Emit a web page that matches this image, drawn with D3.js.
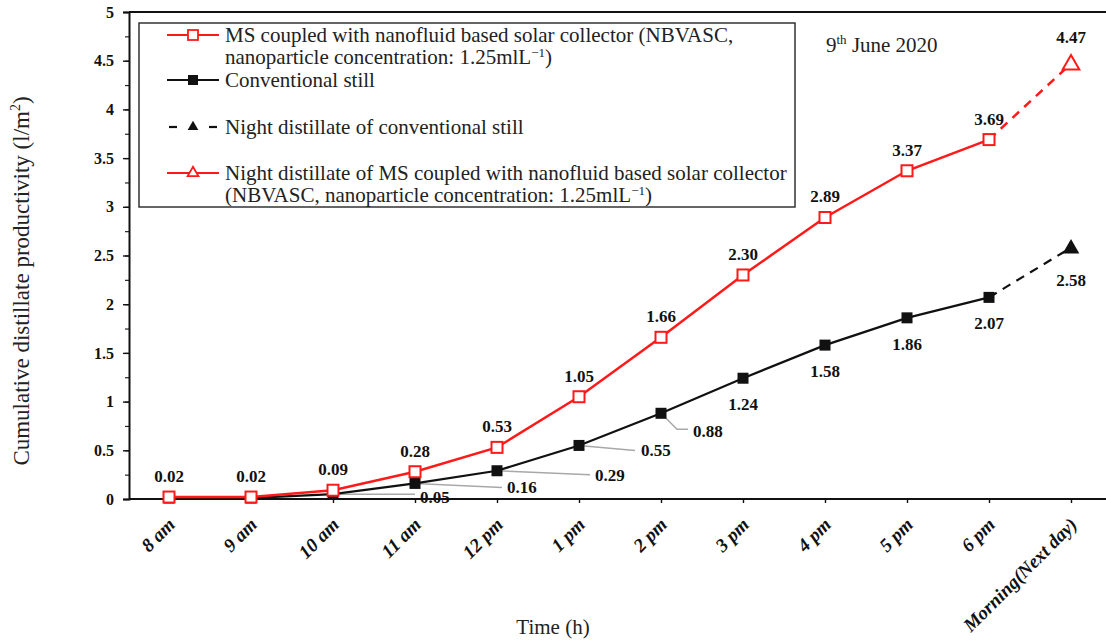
<!DOCTYPE html>
<html>
<head>
<meta charset="utf-8">
<script src="https://cdn.jsdelivr.net/npm/d3@7"></script>
<style>
  html, body { margin: 0; padding: 0; background: #fff; }
  svg { display: block; }
  text { font-family: "Liberation Serif", "Times New Roman", serif; }
</style>
</head>
<body>
<svg id="chart" width="1106" height="640"></svg>
<script>
// Time points over the day plus the next-morning reading
const timeLabels = ["8 am", "9 am", "10 am", "11 am", "12 pm", "1 pm", "2 pm", "3 pm", "4 pm", "5 pm", "6 pm", "Morning(Next day)"];
const dayTimes = timeLabels.slice(0, 11);

// Cumulative distillate (l/m2) during the day
const msValues = [0.02, 0.02, 0.09, 0.28, 0.53, 1.05, 1.66, 2.30, 2.89, 3.37, 3.69];
const convValues = [0.01, 0.01, 0.05, 0.16, 0.29, 0.55, 0.88, 1.24, 1.58, 1.86, 2.07];

// Overnight segment: 6 pm reading to next-morning reading
const nightTimes = ["6 pm", "Morning(Next day)"];
const msNightValues = [3.69, 4.47];
const convNightValues = [2.07, 2.58];

const yTicks = [0, 0.5, 1, 1.5, 2, 2.5, 3, 3.5, 4, 4.5, 5];
const yMinorTicks = d3.range(0, 5.001, 0.25);

const svg = d3.select("#chart");
const margin = { left: 129, top: 12, right: 0, bottom: 141 };
const W = 1106, H = 640;
const iw = W - margin.left - margin.right;
const ih = H - margin.top - margin.bottom;

const g = svg.append("g").attr("transform", `translate(${margin.left},${margin.top})`);

const x = d3.scalePoint().domain(timeLabels).range([40, 942]);
const y = d3.scaleLinear().domain([0, 5]).range([ih, 0]);

// top frame line
g.append("line").attr("x1", 0).attr("x2", iw).attr("y1", 0).attr("y2", 0)
  .attr("stroke", "#111").attr("stroke-width", 2);

// minor y ticks
g.append("g").call(d3.axisLeft(y).tickValues(yMinorTicks).tickSize(4).tickFormat(""))
  .call(a => a.select(".domain").remove())
  .selectAll("line").attr("stroke", "#222").attr("stroke-width", 1.2);

// y axis
const yAxis = g.append("g")
  .call(d3.axisLeft(y).tickValues(yTicks).tickSize(6).tickPadding(9).tickFormat(d3.format("~g")));
yAxis.select(".domain").attr("stroke", "#111").attr("stroke-width", 2);
yAxis.selectAll(".tick line").attr("stroke", "#111").attr("stroke-width", 1.4);
yAxis.selectAll("text").attr("font-family", "Liberation Serif").attr("font-weight", "bold")
  .attr("font-size", 16).attr("fill", "#111");

// x axis
const xAxis = g.append("g").attr("transform", `translate(0,${ih})`)
  .call(d3.axisBottom(x).tickSize(4).tickSizeOuter(0));
xAxis.select(".domain").attr("d", `M0,0H${iw}`).attr("stroke", "#111").attr("stroke-width", 2);
xAxis.selectAll(".tick line").attr("stroke", "#111").attr("stroke-width", 1.4);
xAxis.selectAll("text")
  .attr("font-family", "Liberation Serif").attr("font-weight", "bold").attr("font-style", "italic")
  .attr("font-size", 19).attr("fill", "#111")
  .attr("x", 0).attr("y", 0).attr("dy", "0.35em")
  .attr("text-anchor", "end")
  .attr("transform", "translate(2,22) rotate(-45)");

// axis titles
svg.append("text")
  .attr("transform", `translate(29,281) rotate(-90)`)
  .attr("text-anchor", "middle").attr("font-size", 23).attr("fill", "#222")
  .text("Cumulative distillate productivity (l/m")
  .call(t => t.append("tspan").attr("font-size", 14).attr("dy", -9).text("2"))
  .call(t => t.append("tspan").attr("dy", 9).text(")"));

svg.append("text").attr("x", 553).attr("y", 634).attr("text-anchor", "middle")
  .attr("font-size", 21).attr("fill", "#222").text("Time (h)");

// date note
svg.append("text").attr("x", 826).attr("y", 52).attr("font-size", 21).attr("fill", "#222")
  .text("9")
  .call(t => t.append("tspan").attr("font-size", 13).attr("dy", -8).text("th"))
  .call(t => t.append("tspan").attr("dy", 8).text(" June 2020"));

const lineGen = d3.line().x(d => x(d[0])).y(d => y(d[1]));
const RED = "#ff1a1a";

// gray leader lines for the crowded conventional-still labels
const leaders = [
  { i: 2, pts: [[0, 0], [82, 0]], lx: 87, ly: 3 },
  { i: 3, pts: [[0, 0], [87, 4]], lx: 92, ly: 4 },
  { i: 4, pts: [[0, 0], [93, 4]], lx: 98, ly: 4 },
  { i: 5, pts: [[0, 0], [56, 5]], lx: 62, ly: 5 },
  { i: 6, pts: [[0, 0], [16, 16], [27, 16]], lx: 32, ly: 18 }
];
leaders.forEach(l => {
  const px = x(dayTimes[l.i]), py = y(convValues[l.i]);
  g.append("path")
    .attr("d", d3.line()(l.pts.map(p => [px + p[0], py + p[1]])))
    .attr("fill", "none").attr("stroke", "#a8a8a8").attr("stroke-width", 1.5);
});

// night dashed segments
g.append("path").datum(d3.zip(nightTimes, convNightValues)).attr("d", lineGen)
  .attr("fill", "none").attr("stroke", "#111").attr("stroke-width", 2.2).attr("stroke-dasharray", "9,7");
g.append("path").datum(d3.zip(nightTimes, msNightValues)).attr("d", lineGen)
  .attr("fill", "none").attr("stroke", RED).attr("stroke-width", 2.5).attr("stroke-dasharray", "9,7");

// conventional still line + markers
g.append("path").datum(d3.zip(dayTimes, convValues)).attr("d", lineGen)
  .attr("fill", "none").attr("stroke", "#111").attr("stroke-width", 2.2);
g.selectAll(".conv-pt").data(d3.zip(dayTimes, convValues)).join("rect")
  .attr("x", d => x(d[0]) - 5.5).attr("y", d => y(d[1]) - 5.5)
  .attr("width", 11).attr("height", 11).attr("fill", "#111");

// MS + NBVASC line + markers
g.append("path").datum(d3.zip(dayTimes, msValues)).attr("d", lineGen)
  .attr("fill", "none").attr("stroke", RED).attr("stroke-width", 2.5);
g.selectAll(".ms-pt").data(d3.zip(dayTimes, msValues)).join("rect")
  .attr("x", d => x(d[0]) - 5.5).attr("y", d => y(d[1]) - 5.5)
  .attr("width", 11).attr("height", 11).attr("fill", "#fff").attr("stroke", RED).attr("stroke-width", 2);

// next-morning triangles
const tri = d3.symbol().type(d3.symbolTriangle).size(120);
g.append("path").attr("d", tri)
  .attr("transform", `translate(${x(nightTimes[1])},${y(convNightValues[1]) + 1})`).attr("fill", "#111");
g.append("path").attr("d", tri)
  .attr("transform", `translate(${x(nightTimes[1])},${y(msNightValues[1]) + 1})`)
  .attr("fill", "#fff").attr("stroke", RED).attr("stroke-width", 2);

// value labels
const lbl = (tx, ty, txt) => g.append("text").attr("x", tx).attr("y", ty).attr("dy", "0.35em")
  .attr("text-anchor", "middle").attr("font-weight", "bold").attr("font-size", 17).attr("fill", "#111").text(txt);

msValues.forEach((v, i) => lbl(x(dayTimes[i]), y(v) - 21, v.toFixed(2)));
lbl(x(nightTimes[1]), y(msNightValues[1]) - 27, msNightValues[1].toFixed(2));

convValues.forEach((v, i) => {
  if (i < 2) return;
  const l = leaders.find(d => d.i === i);
  if (l) {
    lbl(x(dayTimes[i]) + l.lx, y(v) + l.ly, v.toFixed(2)).attr("text-anchor", "start");
  } else {
    lbl(x(dayTimes[i]), y(v) + 26, v.toFixed(2));
  }
});
lbl(x(nightTimes[1]), y(convNightValues[1]) + 32, convNightValues[1].toFixed(2));

// legend
const lg = svg.append("g");
lg.append("rect").attr("x", 139).attr("y", 23).attr("width", 656).attr("height", 184)
  .attr("fill", "#fff").attr("stroke", "#333").attr("stroke-width", 1.5);

const legendItems = [
  { color: RED, dashed: false, marker: "sq-open", y: 35,
    lines: ["MS coupled with nanofluid based solar collector (NBVASC,", "nanoparticle concentration: 1.25mlL"], sup: true },
  { color: "#111", dashed: false, marker: "sq-fill", y: 80, lines: [" Conventional still"] },
  { color: "#111", dashed: true, marker: "tri-fill", y: 127, lines: ["Night distillate of conventional still"] },
  { color: RED, dashed: false, marker: "tri-open", y: 173,
    lines: ["Night distillate of MS coupled with nanofluid based solar collector", "(NBVASC, nanoparticle concentration: 1.25mlL"], sup: true }
];
const triSmall = d3.symbol().type(d3.symbolTriangle).size(50);
legendItems.forEach(it => {
  const segs = it.dashed ? [[169, 177], [209, 217]] : [[167, 219]];
  segs.forEach(s => lg.append("line").attr("x1", s[0]).attr("x2", s[1]).attr("y1", it.y).attr("y2", it.y)
    .attr("stroke", it.color).attr("stroke-width", 2.2));
  if (it.marker === "sq-open") {
    lg.append("rect").attr("x", 188).attr("y", it.y - 5).attr("width", 10).attr("height", 10)
      .attr("fill", "#fff").attr("stroke", it.color).attr("stroke-width", 1.8);
  } else if (it.marker === "sq-fill") {
    lg.append("rect").attr("x", 188).attr("y", it.y - 5).attr("width", 10).attr("height", 10).attr("fill", "#111");
  } else if (it.marker === "tri-fill") {
    lg.append("path").attr("d", triSmall).attr("transform", `translate(193,${it.y})`).attr("fill", "#111");
  } else {
    lg.append("path").attr("d", triSmall).attr("transform", `translate(193,${it.y})`)
      .attr("fill", "#fff").attr("stroke", it.color).attr("stroke-width", 1.8);
  }
  it.lines.forEach((ln, k) => {
    const t = lg.append("text").attr("x", 225).attr("y", it.y + 7 + k * 22)
      .attr("font-size", 21).attr("fill", "#222").text(ln);
    if (it.sup && k === it.lines.length - 1) {
      t.append("tspan").attr("font-size", 13).attr("dy", -7).text("\u2212" + "1");
      t.append("tspan").attr("dy", 7).text(")");
    }
  });
});
</script>
</body>
</html>
